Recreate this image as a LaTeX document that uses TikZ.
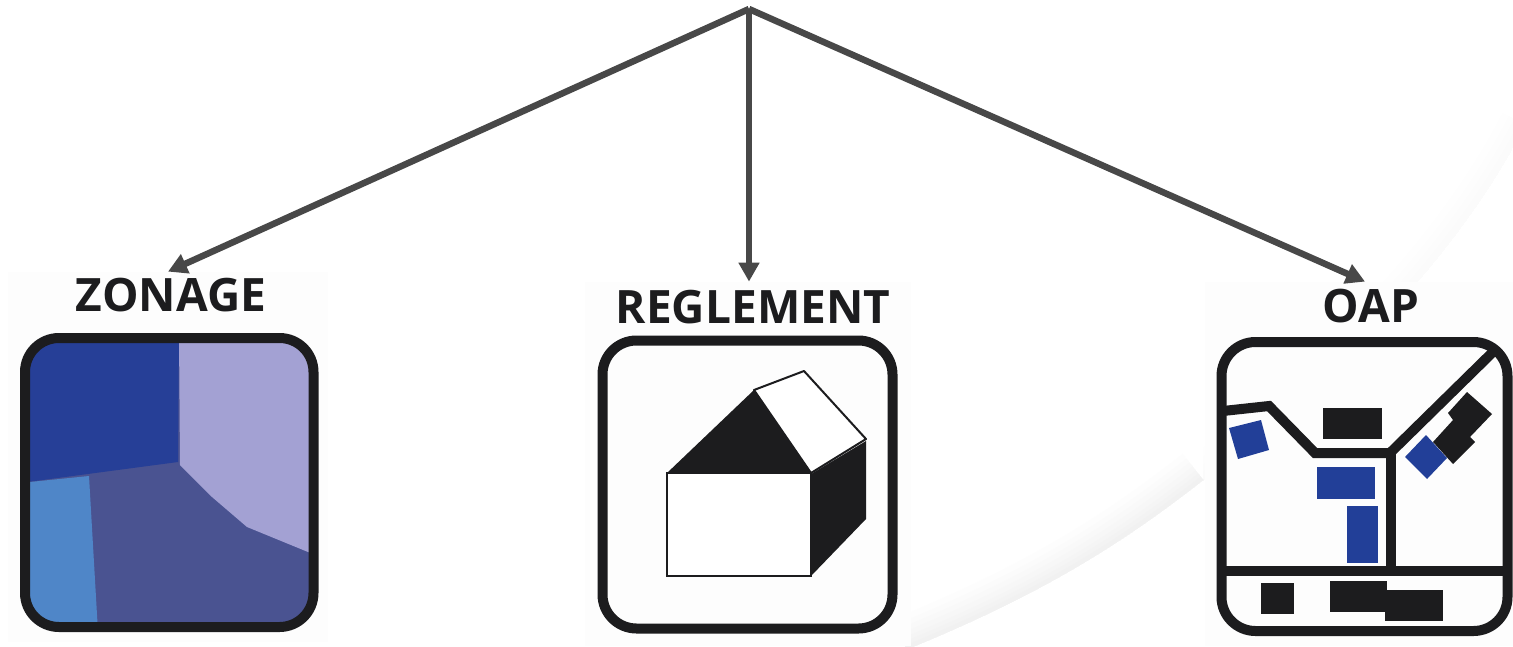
\documentclass[tikz,border=0pt]{standalone}
\usepackage{fontspec}
\setmainfont{Open Sans}
\usetikzlibrary{arrows.meta}
\definecolor{arrowgrey}{HTML}{484848}
\definecolor{ink}{HTML}{1C1C1E}
\definecolor{offwhite}{HTML}{FDFDFD}
\definecolor{zdark}{HTML}{263F97}
\definecolor{zlilac}{HTML}{A3A1D3}
\definecolor{zsky}{HTML}{4F86C8}
\definecolor{zmid}{HTML}{4A5391}
\definecolor{oblue}{HTML}{223F98}
\tikzset{
  link/.style={draw=arrowgrey,line width=6.5pt,-{Triangle[length=19pt,width=20pt]}},
  caption/.style={font=\bfseries\fontsize{46}{46}\selectfont,text=ink,inner sep=0pt,text height=32pt,text depth=0pt,anchor=south},
  frame/.style={draw=ink,line width=10pt,rounded corners=34pt},
  street/.style={draw=ink,line width=10pt,line join=miter},
  solid ink/.style={fill=ink,draw=none},
  solid blue/.style={fill=oblue,draw=none},
  patch/.style={fill=offwhite,draw=none}
}
\newcommand{\swooshlow}{(905,650) .. controls (1040,595) and (1120,545) .. (1203,480)}
\newcommand{\swooshhigh}{(1203,480) .. controls (1320,390) and (1450,270) .. (1525,125)}
\begin{document}
\begin{tikzpicture}[x=1pt,y=-1pt]
\useasboundingbox (0,0) rectangle (1513,646);
\fill[white] (0,0) rectangle (1513,646);
% pale swoosh: a soft shadow on the upper side of a curve
\begin{scope}
\clip \swooshhigh -- (1525,-5) -- (1203,-5) -- cycle;
\foreach \w/\g in {50/0.4,36/0.8,24/1.2,12/1.6}{
  \draw[black!\g,line width=\w pt] \swooshhigh;
}
\end{scope}
\begin{scope}
\clip \swooshlow -- (1203,-5) -- (905,-5) -- cycle;
\foreach \w/\g in {66/0.8,54/1.6,44/2.4,34/3.2,24/4,16/4.8,8/5.6}{
  \draw[black!\g,line width=\w pt] \swooshlow;
}
\end{scope}
\fill[patch] (8,272) rectangle (328,642);
\fill[patch] (585,282) rectangle (911,646);
\fill[patch] (1205,282) rectangle (1513,646);

% ZONAGE icon
\begin{scope}
\clip[rounded corners=34pt] (25,338) rectangle (313.5,627);
\fill[zmid] (20,334) rectangle (318,632);
\fill[zdark] (20,334) -- (179,334) -- (178,462) -- (20,483) -- cycle;
\fill[zlilac] (179,334) -- (318,334) -- (318,555) -- (308,552) -- (247,527) -- (212,497) -- (180,465) -- cycle;
\fill[zsky] (20,483) -- (89,476) -- (98,632) -- (20,632) -- cycle;
\end{scope}
\draw[frame] (25,338) rectangle (313.5,627);

% REGLEMENT icon
\draw[frame] (602.5,340.5) rectangle (892.5,628.5);
\draw[draw=ink,line width=2pt,fill=white] (667,473) rectangle (811,576);
\fill[ink] (667,473) -- (754,390) -- (811,474) -- cycle;
\draw[draw=ink,line width=2pt,fill=white,line join=round] (754,390) -- (804,371) -- (866,439) -- (811,473) -- cycle;
\fill[ink] (811,474) -- (866,441) -- (866,519) -- (811,576) -- cycle;

% OAP icon
\fill[solid blue] (1229,428) -- (1261,420) -- (1269,450) -- (1238,459) -- cycle;
\fill[solid ink] (1448,413) -- (1467,392) -- (1492,414) -- (1470,437) -- (1475,442) -- (1453,464) -- (1433,442) -- (1453,420) -- cycle;
\fill[solid blue] (1405,457) -- (1426,435) -- (1447,458) -- (1427,479) -- cycle;
\fill[solid ink] (1323,408) rectangle (1382,439);
\fill[solid blue] (1317,467) rectangle (1375,499);
\fill[solid blue] (1347,506) rectangle (1378,563);
\fill[solid ink] (1261,583) rectangle (1294,614);
\fill[solid ink] (1330,581) rectangle (1387,612);
\fill[solid ink] (1385,590) rectangle (1443,621);
\draw[street] (1223,411) -- (1269,406) -- (1315,453) -- (1390,453) -- (1497,348);
\draw[street] (1391,453) -- (1391,571);
\draw[street] (1222,571) -- (1507,571);
\draw[frame] (1221.5,342) rectangle (1507.5,631);

% captions
\node[caption] (zonage) at (171,312) {ZONAGE};
\node[caption] (reglement) at (753,324) {REGLEMENT};
\node[caption] (oap) at (1371,323) {OAP};

% connectors
\coordinate (apex) at (749,9);
\draw[link] (apex) -- ([xshift=-3pt,yshift=8pt]zonage.north);
\draw[link] (apex) -- ([xshift=-4pt,yshift=10pt]reglement.north);
\draw[link] (apex) -- ([xshift=-6pt,yshift=9pt]oap.north);
\end{tikzpicture}
\end{document}
